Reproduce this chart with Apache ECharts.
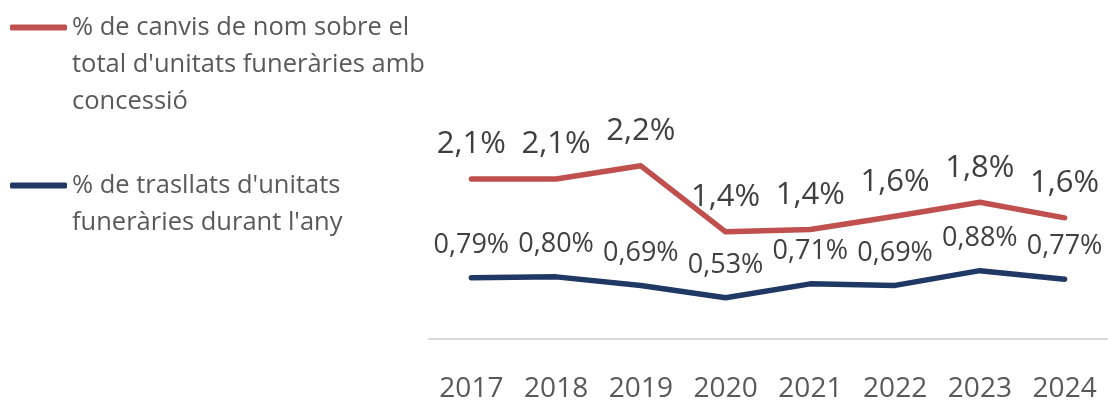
<!DOCTYPE html>
<html lang="ca">
  <head>
    <meta charset="UTF-8" />
    <title>Canvis de nom i trasllats</title>
    <style>
      html, body { margin: 0; padding: 0; background: #fff; }
      #main { width: 1108px; height: 403px; }
    </style>
  </head>
  <body>
    <div id="main"></div>
    <script src="https://cdn.jsdelivr.net/npm/echarts@6/dist/echarts.min.js"></script>
    <script>
      // dades
      const years = ["2017", "2018", "2019", "2020", "2021", "2022", "2023", "2024"];
      const canvisNom = [2.06, 2.06, 2.23, 1.38, 1.41, 1.58, 1.76, 1.56];
      const trasllats = [0.79, 0.8, 0.69, 0.53, 0.71, 0.69, 0.88, 0.77];
      const nomCanvis = "% de canvis de nom sobre el\ntotal d'unitats funeràries amb\nconcessió";
      const nomTrasllats = "% de trasllats d'unitats\nfuneràries durant l'any";

      const FONT = '"Open Sans", sans-serif';
      const fmt = (dec) => (p) => p.value.toFixed(dec).replace(".", ",") + "%";

      const myChart = echarts.init(document.getElementById("main"));
      const option = {
        animation: false,
        legend: {
          orient: "vertical",
          left: 10,
          top: -65,
          padding: 0,
          itemGap: 10,
          itemWidth: 57,
          itemHeight: 6,
          icon: "roundRect",
          // blank lines on top so the icon sits on the first line
          formatter: (name) => "\n".repeat(name.split("\n").length - 1) + name,
          textStyle: { fontFamily: FONT, fontSize: 25.5, color: "#595959", lineHeight: 37 },
          data: [nomCanvis, nomTrasllats],
        },
        grid: { left: 429, right: 1, top: 106, bottom: 61 },
        xAxis: {
          type: "category",
          data: years,
          axisLine: { lineStyle: { color: "#d9d9d9", width: 2 } },
          axisTick: { show: false },
          axisLabel: { fontFamily: FONT, fontSize: 28, color: "#595959", margin: 36 },
        },
        yAxis: {
          type: "value",
          min: 0,
          max: 3,
          show: false,
        },
        series: [
          {
            name: nomCanvis,
            type: "line",
            data: canvisNom,
            symbol: "circle",
            symbolSize: 0,
            lineStyle: { color: "#c0504d", width: 5.5, cap: "round", join: "round" },
            itemStyle: { color: "#c0504d" },
            label: {
              show: true,
              position: "top",
              distance: 19,
              fontFamily: FONT,
              fontSize: 31,
              color: "#404040",
              formatter: fmt(1),
            },
          },
          {
            name: nomTrasllats,
            type: "line",
            data: trasllats,
            symbol: "circle",
            symbolSize: 0,
            lineStyle: { color: "#1f3864", width: 5.5, cap: "round", join: "round" },
            itemStyle: { color: "#1f3864" },
            label: {
              show: true,
              position: "top",
              distance: 19,
              fontFamily: FONT,
              fontSize: 27,
              color: "#404040",
              formatter: fmt(2),
            },
          },
        ],
      };
      myChart.setOption(option);
    </script>
  </body>
</html>
